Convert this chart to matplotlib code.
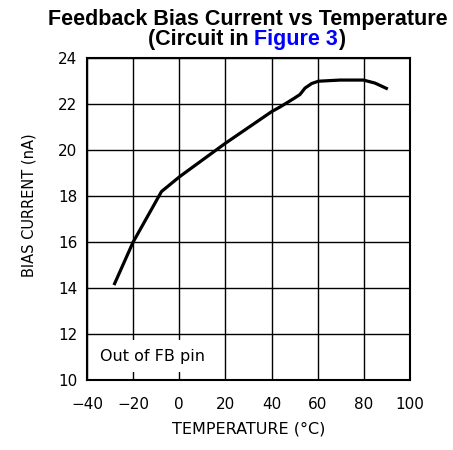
import matplotlib
matplotlib.use("Agg")
import matplotlib.pyplot as plt

temp = [-28.3, -20, -7.7, 0.2, 20.0, 40.1, 43.7, 49.4, 52.3, 54.5, 57.4, 60.3, 69.7, 79.8, 84.8, 90.4]
bias = [14.13, 16.0, 18.2, 18.85, 20.3, 21.68, 21.88, 22.23, 22.42, 22.7, 22.9, 23.0, 23.05, 23.05, 22.92, 22.66]
xticks = [-40, -20, 0, 20, 40, 60, 80, 100]
yticks = [10, 12, 14, 16, 18, 20, 22, 24]

fig = plt.figure(figsize=(4.53, 4.5), dpi=100)
ax = fig.add_axes([0.192, 0.1556, 0.713, 0.715])
ax.plot(temp, bias, color="black", lw=2.3, solid_capstyle="butt",
        solid_joinstyle="round", zorder=3)
ax.set_xlim(-40, 100)
ax.set_ylim(10, 24)
ax.set_xticks(xticks)
ax.set_yticks(yticks)
ax.set_xticklabels([str(t).replace("-", "\u2212") for t in xticks])
ax.grid(True, color="black", lw=1.0)
ax.tick_params(length=0, labelsize=11)
ax.tick_params(axis="x", pad=12)
ax.tick_params(axis="y", pad=7)
for s in ax.spines.values():
    s.set_linewidth(1.5)
ax.set_xlabel("TEMPERATURE (\u00b0C)", fontsize=11.5)
ax.set_ylabel("BIAS CURRENT (nA)", fontsize=10.5)
ax.xaxis.set_label_coords(0.5, -0.13)
ax.yaxis.set_label_coords(-0.155, 0.543)
ax.text(-34.3, 11.04, "Out of FB pin", fontsize=11.5, va="center", ha="left",
        bbox=dict(facecolor="white", edgecolor="none", pad=6), zorder=4)

fig.text(247.5 / 453, 1 - 25 / 450, "Feedback Bias Current vs Temperature", ha="center",
         va="baseline", fontsize=15.5, fontweight="bold", family="Liberation Sans")
# second line with blue link
fig.canvas.draw()
r = fig.canvas.get_renderer()
parts = [("(Circuit in ", "black"), ("Figure 3", "#0000ff"), (")", "black")]
objs = []
for s, c in parts:
    objs.append(fig.text(0, 1 - 44.5 / 450, s, ha="left", va="baseline", fontsize=15.5,
                         fontweight="bold", family="Liberation Sans", color=c))
widths = [o.get_window_extent(r).width for o in objs]
total = sum(widths)
x0 = 246.5 - total / 2
for o, w in zip(objs, widths):
    o.set_x(x0 / fig.bbox.width)
    x0 += w
fig.savefig("out.png", dpi=100)
